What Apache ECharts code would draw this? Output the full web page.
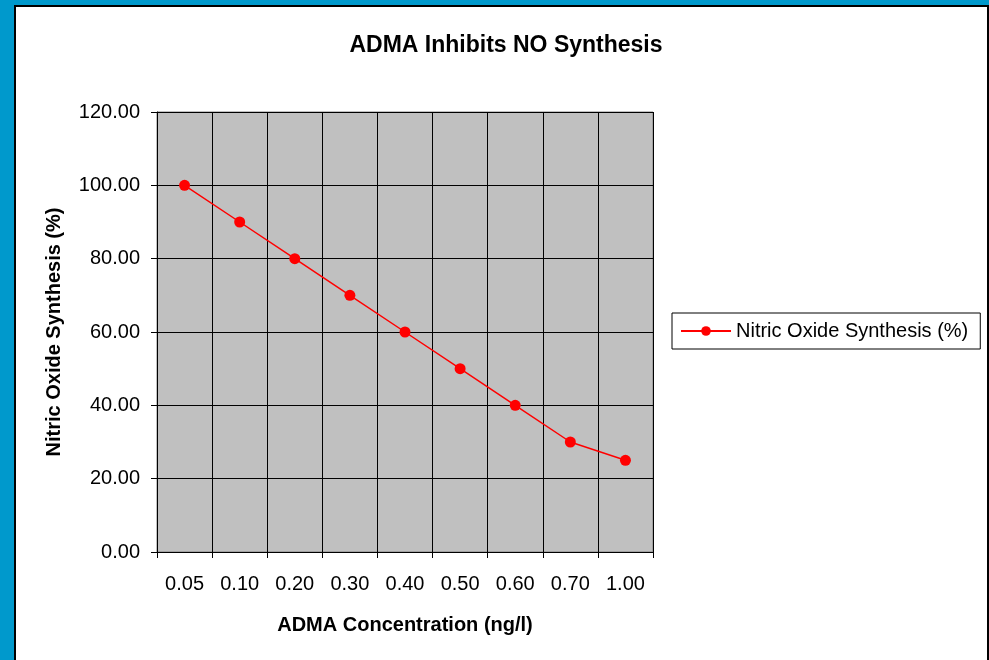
<!DOCTYPE html>
<html>
<head>
<meta charset="utf-8">
<script src="https://cdn.jsdelivr.net/npm/echarts@6/dist/echarts.min.js"></script>
<style>
  html, body { margin: 0; padding: 0; background: #0099cc; overflow: hidden; }
  #frame { position: absolute; left: 14px; top: 5px; width: 971px; height: 700px;
           background: #fff; border: 2px solid #000; }
  #chart { position: absolute; left: 0; top: 0; width: 989px; height: 660px; }
</style>
</head>
<body>
<div id="frame"></div>
<div id="chart"></div>
<script>
// 数据
var categories = ["0.05", "0.10", "0.20", "0.30", "0.40", "0.50", "0.60", "0.70", "1.00"];
var synthesis = [100, 90, 80, 70, 60, 50, 40, 30, 25];
var seriesName = "Nitric Oxide Synthesis (%)";

var font = "Liberation Sans, Arial, sans-serif";
var myChart = echarts.init(document.getElementById("chart"));
var option = {
  backgroundColor: "transparent",
  animation: false,
  title: {
    text: "ADMA Inhibits NO Synthesis",
    left: 501, top: 29, textAlign: "center",
    textStyle: { fontFamily: font, fontSize: 23, fontWeight: "bold", color: "#000" }
  },
  legend: {
    left: 672, top: 313,
    orient: "vertical",
    itemWidth: 50, itemHeight: 12,
    padding: [8, 12, 8, 8],
    borderColor: "#000", borderWidth: 1,
    textStyle: { fontFamily: font, fontSize: 20, color: "#000" },
    data: [seriesName]
  },
  grid: { left: 157, top: 112, width: 496, height: 440, show: true,
          backgroundColor: "#c0c0c0", borderColor: "#808080", borderWidth: 1 },
  xAxis: {
    type: "category",
    data: categories,
    boundaryGap: true,
    name: "ADMA Concentration (ng/l)",
    nameLocation: "middle", nameGap: 63,
    nameTextStyle: { fontFamily: font, fontSize: 20, fontWeight: "bold", color: "#000" },
    axisLine: { lineStyle: { color: "#000", width: 1 } },
    axisTick: { show: true, length: 6, lineStyle: { color: "#000" } },
    axisLabel: { fontFamily: font, fontSize: 20, color: "#000", margin: 22 },
    splitLine: { show: true, lineStyle: { color: "#000", width: 1 } }
  },
  yAxis: {
    type: "value",
    min: 0, max: 120, interval: 20,
    name: "Nitric Oxide Synthesis (%)",
    nameLocation: "middle", nameGap: 93,
    nameTextStyle: { fontFamily: font, fontSize: 20, fontWeight: "bold", color: "#000" },
    axisLine: { show: true, lineStyle: { color: "#000", width: 1 } },
    axisTick: { show: true, length: 6, lineStyle: { color: "#000" } },
    axisLabel: { fontFamily: font, fontSize: 20, color: "#000", margin: 17,
                 formatter: function (v) { return v.toFixed(2); } },
    splitLine: { show: true, lineStyle: { color: "#000", width: 1 } }
  },
  series: [{
    name: seriesName,
    type: "line",
    data: synthesis,
    symbol: "circle",
    symbolSize: 11,
    itemStyle: { color: "#ff0000" },
    lineStyle: { color: "#ff0000", width: 1.5 }
  }]
};
myChart.setOption(option);
window.addEventListener("resize", function () { myChart.resize(); });
</script>
</body>
</html>
